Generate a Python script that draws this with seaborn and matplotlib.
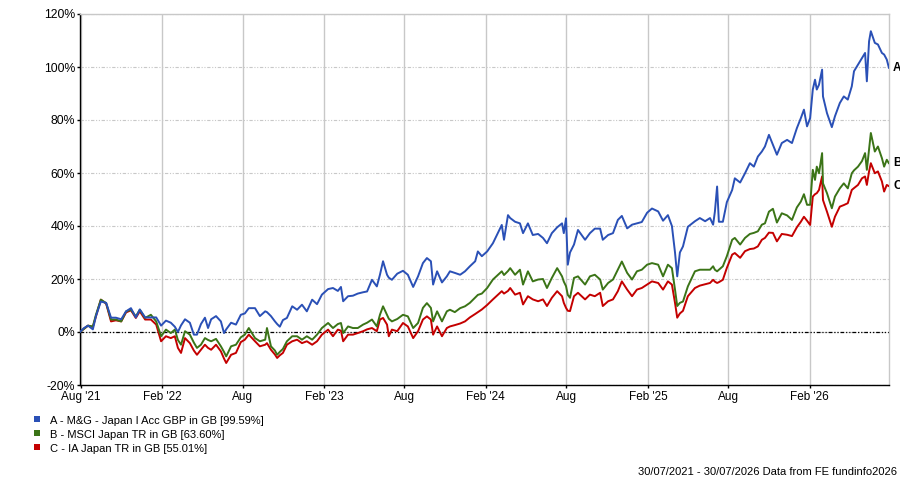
import matplotlib
matplotlib.use("Agg")
import matplotlib.pyplot as plt
from matplotlib.patches import Rectangle
from matplotlib.ticker import FuncFormatter
import numpy as np
import pandas as pd
import seaborn as sns

# ---------------- data ----------------
dates = [
    "2021-07-30", "2021-08-08", "2021-08-17", "2021-08-28", "2021-09-04", "2021-09-15", "2021-09-27",
    "2021-10-08", "2021-10-19", "2021-10-31", "2021-11-11", "2021-11-22", "2021-12-03", "2021-12-12",
    "2021-12-24", "2022-01-06", "2022-01-18", "2022-01-29", "2022-02-09", "2022-02-20", "2022-03-01",
    "2022-03-08", "2022-03-15", "2022-03-24", "2022-04-04", "2022-04-13", "2022-04-20", "2022-04-29",
    "2022-05-08", "2022-05-15", "2022-05-22", "2022-06-02", "2022-06-13", "2022-06-20", "2022-06-25",
    "2022-07-06", "2022-07-17", "2022-07-28", "2022-08-06", "2022-08-15", "2022-08-29", "2022-09-09",
    "2022-09-21", "2022-09-25", "2022-10-04", "2022-10-13", "2022-10-18", "2022-10-24", "2022-10-31",
    "2022-11-09", "2022-11-21", "2022-12-02", "2022-12-13", "2022-12-24", "2023-01-05", "2023-01-16",
    "2023-01-27", "2023-02-10", "2023-02-21", "2023-03-04", "2023-03-11", "2023-03-16", "2023-03-27",
    "2023-04-07", "2023-04-18", "2023-04-30", "2023-05-09", "2023-05-20", "2023-05-31", "2023-06-07",
    "2023-06-14", "2023-06-23", "2023-06-27", "2023-07-04", "2023-07-16", "2023-07-29", "2023-08-09",
    "2023-08-21", "2023-09-01", "2023-09-12", "2023-09-21", "2023-09-30", "2023-10-05", "2023-10-14",
    "2023-10-25", "2023-11-05", "2023-11-12", "2023-11-23", "2023-12-05", "2023-12-16", "2023-12-27",
    "2024-01-08", "2024-01-14", "2024-01-23", "2024-02-04", "2024-02-17", "2024-02-28", "2024-03-08",
    "2024-03-13", "2024-03-22", "2024-03-27", "2024-04-07", "2024-04-18", "2024-04-25", "2024-05-06",
    "2024-05-17", "2024-05-29", "2024-06-09", "2024-06-18", "2024-06-29", "2024-07-11", "2024-07-22",
    "2024-07-26", "2024-07-31", "2024-08-04", "2024-08-09", "2024-08-18", "2024-08-27", "2024-09-12",
    "2024-09-23", "2024-10-04", "2024-10-16", "2024-10-22", "2024-11-03", "2024-11-14", "2024-11-25",
    "2024-12-04", "2024-12-16", "2024-12-27", "2025-01-07", "2025-01-18", "2025-01-30", "2025-02-10",
    "2025-02-24", "2025-03-07", "2025-03-18", "2025-03-27", "2025-04-03", "2025-04-08", "2025-04-14",
    "2025-04-21", "2025-05-02", "2025-05-18", "2025-05-29", "2025-06-10", "2025-06-21", "2025-06-28",
    "2025-07-02", "2025-07-07", "2025-07-11", "2025-07-20", "2025-07-29", "2025-08-10", "2025-08-16",
    "2025-08-28", "2025-09-08", "2025-09-19", "2025-09-28", "2025-10-07", "2025-10-16", "2025-10-23",
    "2025-11-01", "2025-11-10", "2025-11-19", "2025-11-30", "2025-12-12", "2025-12-23", "2026-01-03",
    "2026-01-12", "2026-01-19", "2026-01-26", "2026-02-02", "2026-02-08", "2026-02-13", "2026-02-17",
    "2026-02-22", "2026-03-01", "2026-03-03", "2026-03-12", "2026-03-23", "2026-03-30", "2026-04-10",
    "2026-04-19", "2026-04-28", "2026-05-07", "2026-05-12", "2026-05-21", "2026-05-30", "2026-06-06",
    "2026-06-10", "2026-06-15", "2026-06-19", "2026-06-28", "2026-07-05", "2026-07-14", "2026-07-19",
    "2026-07-25", "2026-07-30",
]

fund_a = [
    0.0, 1.5, 2.4, 1.0, 6.0, 11.5, 11.0,
    5.4, 5.4, 4.8, 7.8, 9.0, 5.5, 8.5,
    5.5, 5.5, 5.5, 2.4, 4.3, 3.5, 2.0,
    0.0, 2.5, 4.8, 3.5, -1.0, -1.0, 3.0,
    5.4, 1.5, 4.8, 6.0, 4.0, -0.4, 1.0,
    3.5, 2.8, 6.5, 7.0, 9.0, 9.0, 6.0,
    7.8, 7.5, 6.0, 4.0, 3.0, 2.0, 4.5,
    5.3, 9.7, 8.4, 10.3, 7.8, 12.2, 10.5,
    14.1, 16.2, 16.6, 15.5, 17.0, 11.6, 13.5,
    13.7, 14.5, 15.0, 15.3, 19.7, 17.2, 21.6,
    26.7, 21.6, 20.5, 19.7, 22.0, 23.1, 21.6,
    17.0, 21.0, 26.0, 27.9, 26.7, 17.9, 22.9,
    18.7, 21.0, 22.9, 22.3, 21.6, 22.9, 24.8,
    26.7, 30.4, 28.6, 30.4, 33.5, 37.3, 40.4,
    34.8, 44.1, 43.0, 41.6, 41.0, 37.3, 41.0,
    36.6, 37.0, 35.5, 33.5, 37.3, 39.5, 41.0,
    37.3, 42.9, 25.4, 30.0, 33.0, 38.5, 34.8,
    37.3, 39.0, 39.0, 34.8, 36.6, 37.3, 42.3,
    43.8, 39.1, 40.5, 41.0, 41.5, 45.0, 46.6,
    45.5, 42.0, 44.1, 40.0, 30.0, 21.0, 30.0,
    32.3, 39.7, 41.8, 43.0, 41.8, 43.0, 40.5,
    45.4, 54.9, 41.6, 41.6, 49.0, 53.6, 58.0,
    56.4, 59.9, 63.7, 62.4, 66.2, 68.1, 70.0,
    74.4, 70.6, 66.9, 71.3, 72.5, 71.3, 76.9,
    80.7, 83.9, 77.6, 80.7, 91.5, 95.2, 91.5,
    93.3, 99.0, 88.9, 82.6, 77.3, 81.4, 86.4,
    88.9, 87.7, 92.7, 98.4, 100.9, 103.4, 105.3,
    94.6, 109.7, 113.5, 109.1, 108.5, 105.3, 104.7,
    102.8, 99.59,
]

index_b = [
    0.0, 1.2, 2.4, 2.1, 6.5, 12.2, 10.9,
    4.7, 4.7, 4.0, 7.8, 8.4, 5.9, 8.4,
    5.3, 6.5, 4.0, -1.6, 0.9, -0.4, 0.9,
    -3.0, -4.8, 0.3, -1.0, -4.0, -6.0, -4.8,
    -2.3, -3.0, -3.5, -2.6, -5.4, -7.5, -9.2,
    -5.4, -4.8, -2.0, -1.0, 1.5, -2.3, -3.5,
    -2.9, 1.5, -5.4, -7.0, -8.6, -7.5, -6.4,
    -3.5, -1.6, -1.6, -2.9, -1.6, -2.9, -1.0,
    1.5, 3.4, 1.5, 3.0, 3.4, -0.4, 2.1,
    1.5, 1.5, 2.8, 3.5, 4.7, 2.1, 6.5,
    9.7, 6.5, 5.0, 4.0, 4.9, 6.5, 5.9,
    1.5, 3.4, 9.1, 10.9, 9.1, 4.0, 7.8,
    4.0, 7.8, 8.4, 7.5, 9.0, 9.7, 11.0,
    13.0, 14.0, 14.5, 16.6, 19.8, 21.5, 22.9,
    21.5, 23.0, 24.1, 21.6, 23.5, 17.9, 22.9,
    19.1, 19.8, 20.0, 16.6, 20.4, 24.1, 21.0,
    19.0, 17.3, 14.0, 12.9, 20.4, 21.0, 17.9,
    21.0, 21.6, 19.8, 16.0, 18.5, 19.8, 23.5,
    26.6, 22.3, 19.8, 22.9, 23.5, 25.4, 26.0,
    25.4, 21.0, 25.4, 24.1, 16.0, 9.8, 11.0,
    11.5, 17.2, 22.9, 23.5, 23.5, 23.5, 24.8,
    23.5, 22.9, 23.5, 24.8, 28.6, 34.8, 35.5,
    33.0, 35.5, 37.0, 37.4, 38.0, 40.5, 41.0,
    45.4, 46.5, 41.3, 44.8, 44.0, 42.3, 47.0,
    49.2, 52.0, 48.0, 48.0, 61.2, 57.4, 62.4,
    59.9, 67.5, 56.1, 52.4, 46.7, 51.1, 54.2,
    56.1, 54.2, 59.9, 61.0, 62.4, 64.5, 67.5,
    61.2, 68.8, 75.1, 68.1, 70.0, 65.6, 62.4,
    65.0, 63.60,
]

sector_c = [
    0.0, 1.2, 2.4, 1.9, 5.9, 12.2, 10.7,
    4.0, 4.4, 4.0, 7.4, 8.2, 5.3, 7.8,
    4.7, 4.7, 2.8, -3.5, -1.6, -2.3, -1.6,
    -6.0, -7.9, -2.3, -4.2, -7.0, -8.6, -6.7,
    -4.8, -6.0, -6.7, -4.8, -7.3, -10.0, -11.7,
    -8.6, -7.9, -3.8, -2.9, -1.0, -3.5, -5.4,
    -4.8, -4.2, -6.7, -8.5, -9.8, -8.8, -7.9,
    -4.8, -3.5, -2.9, -4.2, -3.5, -4.8, -3.5,
    -1.0, 0.9, -1.6, 0.9, 0.5, -3.5, -1.0,
    -1.0, -0.4, 0.3, 1.0, 1.5, 0.3, 4.7,
    5.3, 2.8, -1.6, 0.9, 0.3, 3.4, 2.1,
    -2.3, 0.3, 4.7, 5.9, 4.7, -1.0, 2.1,
    -1.6, 1.5, 2.1, 2.6, 3.2, 4.0, 5.5,
    6.8, 7.5, 8.5, 10.2, 12.3, 14.0, 15.4,
    14.5, 15.5, 16.6, 14.1, 14.8, 10.4, 13.5,
    12.3, 11.6, 12.3, 9.8, 12.9, 15.4, 13.5,
    11.0, 9.1, 8.0, 7.9, 13.5, 14.8, 12.3,
    14.1, 13.5, 14.8, 9.8, 11.6, 12.3, 15.4,
    19.1, 16.0, 13.5, 16.0, 16.6, 17.9, 19.1,
    18.5, 16.0, 19.1, 17.9, 11.0, 5.4, 7.0,
    8.0, 13.5, 16.6, 17.5, 18.0, 18.5, 19.7,
    19.0, 18.5, 18.8, 19.7, 24.2, 29.2, 29.8,
    28.0, 30.5, 31.3, 31.5, 32.3, 34.8, 35.5,
    37.5, 37.4, 34.2, 37.0, 36.7, 36.2, 39.5,
    41.6, 43.5, 42.0, 40.4, 51.1, 52.0, 52.4,
    53.6, 58.7, 49.8, 45.4, 39.7, 43.5, 47.3,
    47.9, 48.6, 53.6, 54.3, 55.5, 58.0, 58.7,
    55.5, 60.6, 63.7, 59.9, 60.6, 56.8, 53.0,
    55.5, 55.01,
]

series_names = ["A", "B", "C"]
legend_labels = [
    "A - M&G - Japan I Acc GBP in GB [99.59%]",
    "B - MSCI Japan TR in GB [63.60%]",
    "C - IA Japan TR in GB [55.01%]",
]
series_colors = ["#2a50b6", "#3b7417", "#c40000"]
ytick_values = [-20, 0, 20, 40, 60, 80, 100, 120]
xtick_dates = ["2021-08-01", "2022-02-01", "2022-08-01", "2023-02-01", "2023-08-01",
               "2024-02-01", "2024-08-01", "2025-02-01", "2025-08-01", "2026-02-01"]
xtick_labels = ["Aug '21", "Feb '22", "Aug", "Feb '23", "Aug",
                "Feb '24", "Aug", "Feb '25", "Aug", "Feb '26"]
footer_text = "30/07/2021 - 30/07/2026 Data from FE fundinfo2026"
x_start, x_end = "2021-07-30", "2026-07-30"

# ---------------- build table ----------------
wide = pd.DataFrame({"date": pd.to_datetime(dates), "A": fund_a, "B": index_b, "C": sector_c})
df = wide.melt(id_vars="date", var_name="series", value_name="value")

sns.set_theme(style="white")
plt.rcParams["font.family"] = ["Liberation Sans", "DejaVu Sans"]

W, H = 900, 484
fig = plt.figure(figsize=(W / 100, H / 100), dpi=100)
fig.patch.set_facecolor("white")

def fx(px):
    return px / W

def fy(py):
    return 1 - py / H

ax_l, ax_r, ax_t, ax_b = 80, 889, 14, 385
ax = fig.add_axes([fx(ax_l), fy(ax_b), (ax_r - ax_l) / W, (ax_b - ax_t) / H])
ax.set_facecolor("white")

palette = dict(zip(series_names, series_colors))
sns.lineplot(data=df, x="date", y="value", hue="series", hue_order=["C", "B", "A"],
             palette=palette, legend=False, linewidth=1.4, estimator=None, sort=False,
             ax=ax, zorder=3)

ax.set_xlim(pd.Timestamp(x_start), pd.Timestamp(x_end))
ax.set_ylim(ytick_values[0], ytick_values[-1])

ax.set_yticks(ytick_values)
ax.yaxis.set_major_formatter(FuncFormatter(lambda v, p: f"{v:.0f}%"))
xt = pd.to_datetime(xtick_dates)
ax.set_xticks(xt)
ax.set_xticklabels(xtick_labels)
ax.set_xlabel("")
ax.set_ylabel("")

grid_col = "#c8c8c8"
ax.set_axisbelow(True)
ax.xaxis.grid(True, color=grid_col, linewidth=1.0, linestyle="-")
ax.yaxis.grid(True, color=grid_col, linewidth=0.8, linestyle=(0, (3, 1.5, 1, 1.5, 1, 1.5)))
ax.axhline(0, color="black", linewidth=0.9, linestyle=(0, (3, 1.5, 1, 1.5, 1, 1.5)), zorder=2)

for side in ["left", "bottom"]:
    ax.spines[side].set_color("black")
    ax.spines[side].set_linewidth(1.0)
for side in ["top", "right"]:
    ax.spines[side].set_color(grid_col)
    ax.spines[side].set_linewidth(1.0)

ax.tick_params(axis="y", which="major", left=True, length=2, width=1, color="black",
               labelsize=8.8, pad=1.5, labelcolor="black")
ax.tick_params(axis="x", which="major", bottom=True, length=2.5, width=1, color="black",
               labelsize=8.5, pad=1.5, labelcolor="black")

# end labels
last_date = pd.Timestamp(dates[-1])
for name, vals in zip(series_names, [fund_a, index_b, sector_c]):
    ax.annotate(name, xy=(last_date, vals[-1]), xytext=(3, 0), textcoords="offset points",
                ha="left", va="center", fontsize=8.5, fontweight="bold", color="black",
                annotation_clip=False)

# legend
for i, (lab, col) in enumerate(zip(legend_labels, series_colors)):
    ytop = 416 + 14 * i
    fig.patches.append(Rectangle((fx(34), fy(ytop + 6)), 6 / W, 6 / H,
                                 transform=fig.transFigure, facecolor=col, edgecolor="none"))
    fig.text(fx(50), fy(ytop + 5), lab, ha="left", va="center", fontsize=8, color="black")

fig.text(fx(897), fy(472), footer_text, ha="right", va="center", fontsize=8, color="black")

fig.savefig("out.png", dpi=100, facecolor="white")
